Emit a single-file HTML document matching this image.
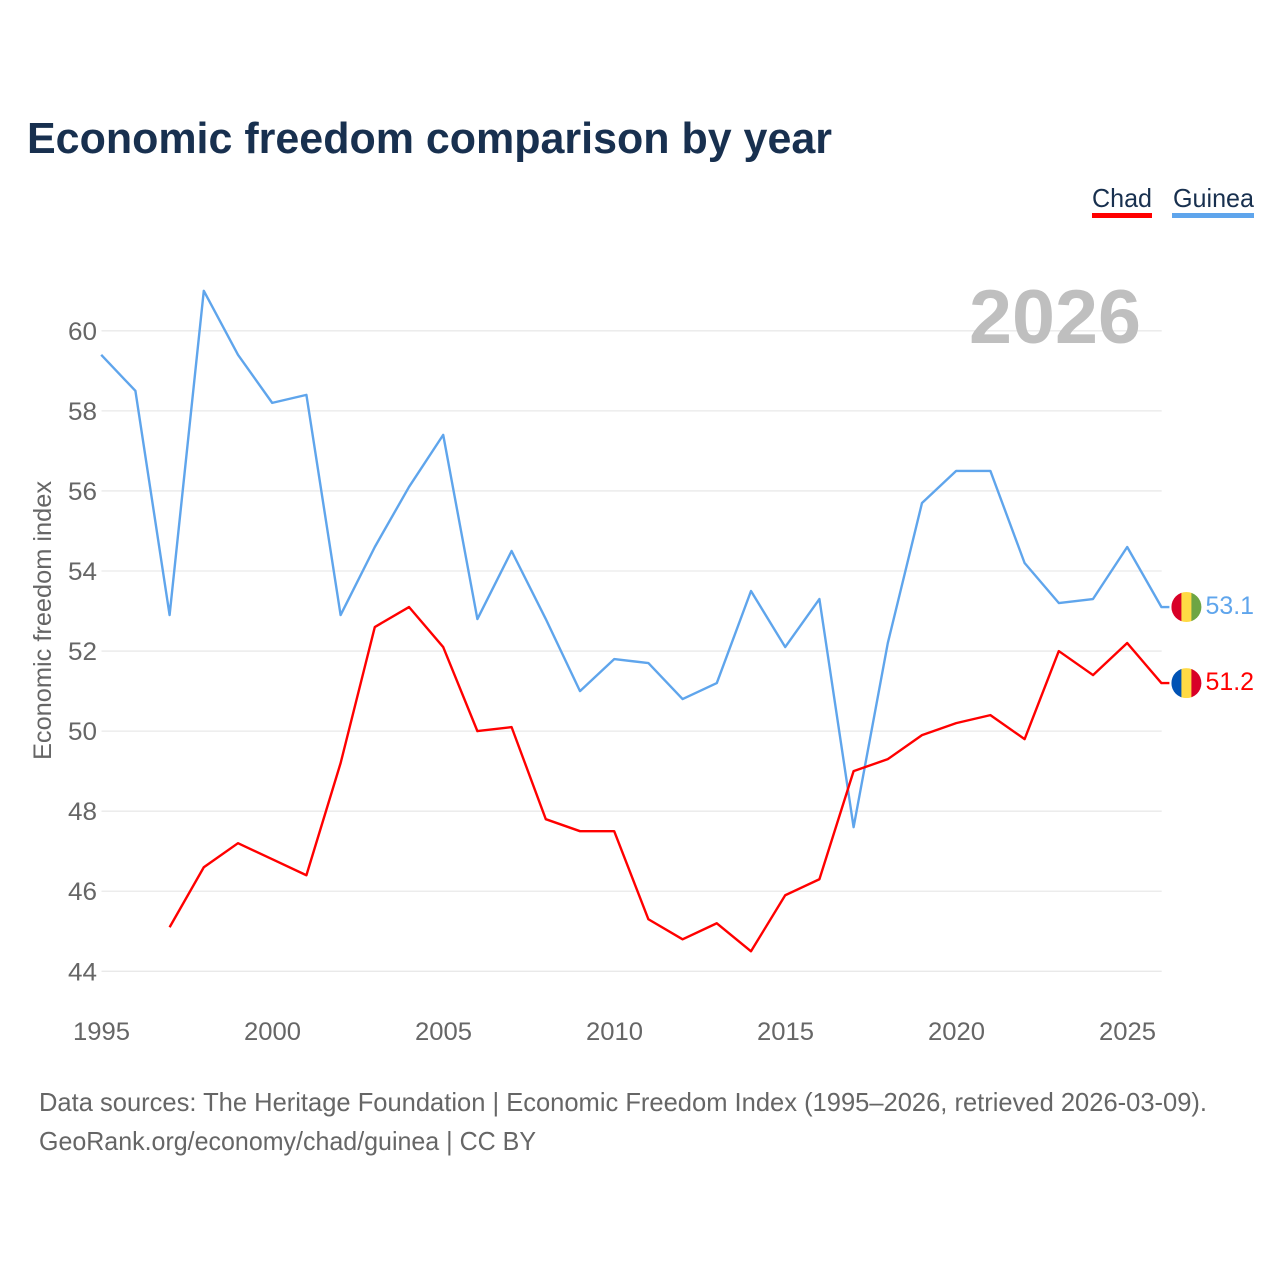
<!DOCTYPE html>
<html>
<head>
<meta charset="utf-8">
<style>
html,body{margin:0;padding:0;background:#fff;width:1280px;height:1280px;overflow:hidden}
svg{display:block;font-family:"Liberation Sans",sans-serif}
</style>
</head>
<body>
<svg id="chart" xmlns="http://www.w3.org/2000/svg" width="1280" height="1280" viewBox="0 0 1280 1280">
  <rect width="1280" height="1280" fill="#fff"/>
  <text x="27" y="153" font-size="44" font-weight="700" fill="#18304f" textLength="805" lengthAdjust="spacingAndGlyphs">Economic freedom comparison by year</text>

  <g>
    <g>
      <text x="1092" y="207" font-size="26" fill="#18304f" textLength="60" lengthAdjust="spacingAndGlyphs">Chad</text>
      <rect x="1092" y="213" width="60" height="5" fill="#ff0000"/>
    </g>
    <g>
      <text x="1173" y="207" font-size="26" fill="#18304f" textLength="81" lengthAdjust="spacingAndGlyphs">Guinea</text>
      <rect x="1172" y="213" width="82" height="5" fill="#5fa5ec"/>
    </g>
  </g>

  <g id="grid"></g>
  <text x="969" y="343" font-size="76" font-weight="700" fill="#bfbfbf" textLength="172" lengthAdjust="spacingAndGlyphs">2026</text>
  <g id="yticks"></g>
  <g id="xticks"></g>
  <text transform="translate(51 620.5) rotate(-90)" text-anchor="middle" font-size="25" fill="#666" textLength="279" lengthAdjust="spacingAndGlyphs">Economic freedom index</text>

  <g id="series"></g>
  <g id="ends"></g>

  <g>
    <text x="39" y="1111" font-size="26" fill="#666" textLength="1168" lengthAdjust="spacingAndGlyphs">Data sources: The Heritage Foundation | Economic Freedom Index (1995–2026, retrieved 2026-03-09).</text>
    <text x="39" y="1150" font-size="26" fill="#666" textLength="497" lengthAdjust="spacingAndGlyphs">GeoRank.org/economy/chad/guinea | CC BY</text>
  </g>
</svg>
<script>
const years = [1995,1996,1997,1998,1999,2000,2001,2002,2003,2004,2005,2006,2007,2008,2009,2010,2011,2012,2013,2014,2015,2016,2017,2018,2019,2020,2021,2022,2023,2024,2025,2026];
const guineaValues = [59.4,58.5,52.9,61.0,59.4,58.2,58.4,52.9,54.6,56.1,57.4,52.8,54.5,52.8,51.0,51.8,51.7,50.8,51.2,53.5,52.1,53.3,47.6,52.2,55.7,56.5,56.5,54.2,53.2,53.3,54.6,53.1];
const chadValues = [null,null,45.1,46.6,47.2,46.8,46.4,49.2,52.6,53.1,52.1,50.0,50.1,47.8,47.5,47.5,45.3,44.8,45.2,44.5,45.9,46.3,49.0,49.3,49.9,50.2,50.4,49.8,52.0,51.4,52.2,51.2];
const yTickValues = [44,46,48,50,52,54,56,58,60];
const xTickValues = [1995,2000,2005,2010,2015,2020,2025];

const NS = 'http://www.w3.org/2000/svg';
function xScale(year){ return 101.2 + (year - 1995) * 34.2; }
function yScale(v){ return 971.3 - (v - 44) * 40.03; }
function make(tag, attrs, parent){
  const el = document.createElementNS(NS, tag);
  for (const k in attrs) el.setAttribute(k, attrs[k]);
  parent.appendChild(el);
  return el;
}

const grid = document.getElementById('grid');
const yticks = document.getElementById('yticks');
yTickValues.forEach(function(v){
  const line = make('line', {x1:101.5, x2:1161.7, y1:yScale(v), y2:yScale(v), stroke:'#e9e9e9', 'stroke-width':1.3}, grid);
  
  
  const label = make('text', {x:97, y:yScale(v)+9, 'text-anchor':'end', 'font-size':25, fill:'#666', textLength:29, lengthAdjust:'spacingAndGlyphs'}, yticks);
  label.textContent = String(v);
  
  
});

const xticks = document.getElementById('xticks');
xTickValues.forEach(function(y){
  const label = make('text', {x:xScale(y)+0.3, y:1040, 'text-anchor':'middle', 'font-size':25, fill:'#666', textLength:57, lengthAdjust:'spacingAndGlyphs'}, xticks);
  label.textContent = String(y);
  
  
});

function pathFor(values){
  let d = '';
  values.forEach(function(v, i){
    if (v === null) return;
    d += (d ? 'L' : 'M') + xScale(years[i]).toFixed(2) + ' ' + yScale(v).toFixed(2);
  });
  return d;
}

const series = document.getElementById('series');
const ends = document.getElementById('ends');

function drawEnd(key, values, color, stripes){
  const last = values[values.length - 1];
  const lx = xScale(years[years.length - 1]);
  const ly = yScale(last);
  const path = make('path', {d:pathFor(values) + 'L' + (lx + 8) + ' ' + ly.toFixed(2), fill:'none', stroke:color, 'stroke-width':2.4, 'stroke-linejoin':'round'}, series);
  
  

  const cx = lx + 25;
  const r = 15;
  const g = make('g', {}, ends);
  
  
  const clip = make('clipPath', {id:'clip-' + key}, g);
  make('circle', {cx:cx, cy:ly, r:r}, clip);
  const strip = make('g', {'clip-path':'url(#clip-' + key + ')'}, g);
  stripes.forEach(function(c, i){
    make('rect', {x:cx - r + i * 10, y:ly - r, width:10.3, height:r * 2, fill:c}, strip);
  });

  const label = make('text', {x:1205.5, y:ly + 7, 'font-size':25, fill:color, textLength:48.5, lengthAdjust:'spacingAndGlyphs'}, ends);
  label.textContent = last.toFixed(1);
  
  
}

drawEnd('guinea', guineaValues, '#5fa5ec', ['#d80027','#ffda44','#6da544']);
drawEnd('chad', chadValues, '#ff0000', ['#0052b4','#ffda44','#d80027']);
</script>
</body>
</html>
